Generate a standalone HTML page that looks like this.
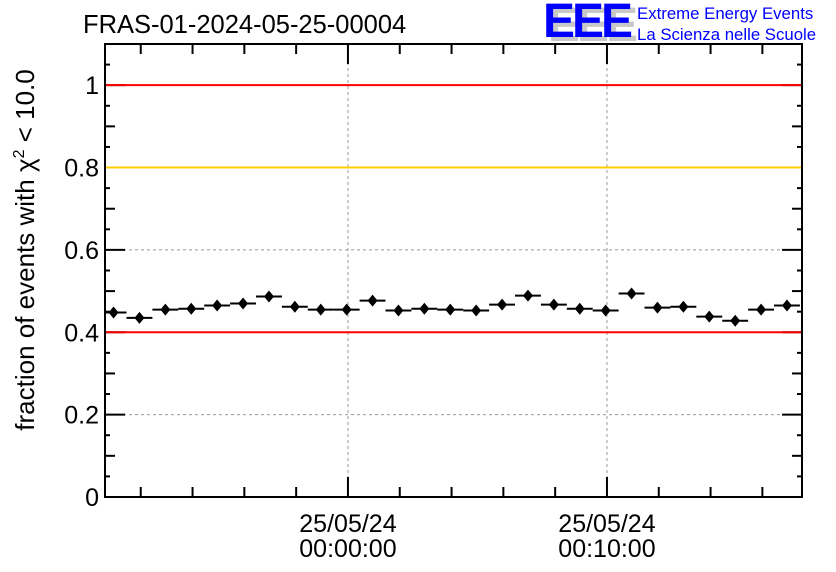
<!DOCTYPE html>
<html><head><meta charset="utf-8"><style>
body{margin:0;background:#fff;}
svg{display:block;font-family:"Liberation Sans",sans-serif;}
</style></head><body>
<svg id="chart" width="836" height="572" viewBox="0 0 836 572" xmlns="http://www.w3.org/2000/svg">
<rect width="836" height="572" fill="#fff"/>
<text x="83" y="33" font-size="25.5">FRAS-01-2024-05-25-00004</text>
<g>
<text x="548" y="41" font-size="48" font-weight="bold" fill="#c8c8c8" letter-spacing="-3">EEE</text>
<text x="543" y="37" font-size="48" font-weight="bold" fill="#0000ff" letter-spacing="-3">EEE</text>
<text x="637" y="19" font-size="16.8" fill="#0000ff">Extreme Energy Events</text>
<text x="637" y="40" font-size="16.8" fill="#0000ff">La Scienza nelle Scuole</text>
</g>
<text transform="translate(34,250) rotate(-90)" text-anchor="middle" font-size="26">fraction of events with χ<tspan font-size="16" dy="-10">2</tspan><tspan dy="10"> &lt; 10.0</tspan></text>
<g id="grid"></g><g id="axes"></g><g id="refs"></g><g id="marks"></g>
</svg>
<script>
const times = [-9.05,-8.05,-7.05,-6.05,-5.05,-4.05,-3.05,-2.05,-1.05,-0.05,0.95,1.95,2.95,3.95,4.95,5.95,6.95,7.95,8.95,9.95,10.95,11.95,12.95,13.95,14.95,15.95,16.95];
const fractions = [0.448,0.435,0.455,0.457,0.465,0.470,0.487,0.462,0.455,0.455,0.477,0.453,0.457,0.455,0.453,0.467,0.489,0.467,0.457,0.453,0.494,0.460,0.462,0.438,0.428,0.455,0.465];
const errors = [0.01,0.01,0.01,0.01,0.01,0.01,0.01,0.01,0.01,0.01,0.01,0.01,0.01,0.01,0.01,0.01,0.01,0.01,0.01,0.01,0.01,0.01,0.01,0.01,0.01,0.01,0.01];
const yTicks = [0,0.2,0.4,0.6,0.8,1];
const yTickLabels = ["0","0.2","0.4","0.6","0.8","1"];
const xMajor = [0,10];
const xDateLabels = ["25/05/24","25/05/24"];
const xTimeLabels = ["00:00:00","00:10:00"];
const refLevels = [1,0.8,0.4];
const refColors = ["#ff0000","#ffcc00","#ff0000"];

const L=105,R=802,T=44,B=497, xmin=-9.38, xmax=17.53, ymin=0, ymax=1.1;
const X=t=>L+(t-xmin)/(xmax-xmin)*(R-L);
const Y=v=>B-(v-ymin)/(ymax-ymin)*(B-T);
const NS="http://www.w3.org/2000/svg";
function mk(tag,parent,attrs){const e=document.createElementNS(NS,tag);for(const k in attrs)e.setAttribute(k,attrs[k]);parent.appendChild(e);return e;}
const grid=document.getElementById('grid'),refs=document.getElementById('refs'),axes=document.getElementById('axes'),marks=document.getElementById('marks');

yTicks.forEach((v,i)=>{
  if(v>0&&v<1){const g=mk('line',grid,{x1:L,x2:R,y1:Y(v),y2:Y(v),stroke:'#999','stroke-dasharray':'3,3'});
  
  }
  const t=mk('text',axes,{x:L-6,y:Y(v)+9,'text-anchor':'end','font-size':'25'});t.textContent=yTickLabels[i];
  
  
});
xMajor.forEach((m,i)=>{
  const g=mk('line',grid,{x1:X(m),x2:X(m),y1:T,y2:B,stroke:'#999','stroke-dasharray':'3,3'});
  
  
  const a=mk('text',axes,{x:X(m),y:532,'text-anchor':'middle','font-size':'25'});a.textContent=xDateLabels[i];
  
  
  const b=mk('text',axes,{x:X(m),y:557,'text-anchor':'middle','font-size':'25'});b.textContent=xTimeLabels[i];
  
  
});
const f=mk('rect',axes,{x:L,y:T,width:R-L,height:B-T,fill:'none',stroke:'#000','stroke-width':2});


for(let k=0;k<=22;k++){const v=k*0.05;const len=(k%4===0)?20:(k%2===0)?10:5;
  mk('line',axes,{x1:L,x2:L+len,y1:Y(v),y2:Y(v),stroke:'#000','stroke-width':2});
  mk('line',axes,{x1:R,x2:R-len,y1:Y(v),y2:Y(v),stroke:'#000','stroke-width':2});}
for(let m=-8;m<=16;m+=2){const len=(m%10===0)?20:10;
  mk('line',axes,{x1:X(m),x2:X(m),y1:B,y2:B-len,stroke:'#000','stroke-width':2});
  mk('line',axes,{x1:X(m),x2:X(m),y1:T,y2:T+len,stroke:'#000','stroke-width':2});}
refLevels.forEach((v,i)=>{
  const l=mk('line',refs,{x1:L+1,x2:R-1,y1:Y(v),y2:Y(v),stroke:refColors[i],'stroke-width':2});
  
  
});
times.forEach((t,i)=>{
  const g=mk('g',marks,{});
  
  
  const x=X(t),y=Y(fractions[i]);
  mk('line',g,{x1:Math.max(L,X(t-0.5)),x2:Math.min(R,X(t+0.5)),y1:y,y2:y,stroke:'#000','stroke-width':2});
  mk('line',g,{x1:x,x2:x,y1:Y(fractions[i]+errors[i]),y2:Y(fractions[i]-errors[i]),stroke:'#000','stroke-width':2});
  mk('polygon',g,{points:`${x},${y-6} ${x+5},${y} ${x},${y+6} ${x-5},${y}`,fill:'#000'});
});
</script>
</body></html>
